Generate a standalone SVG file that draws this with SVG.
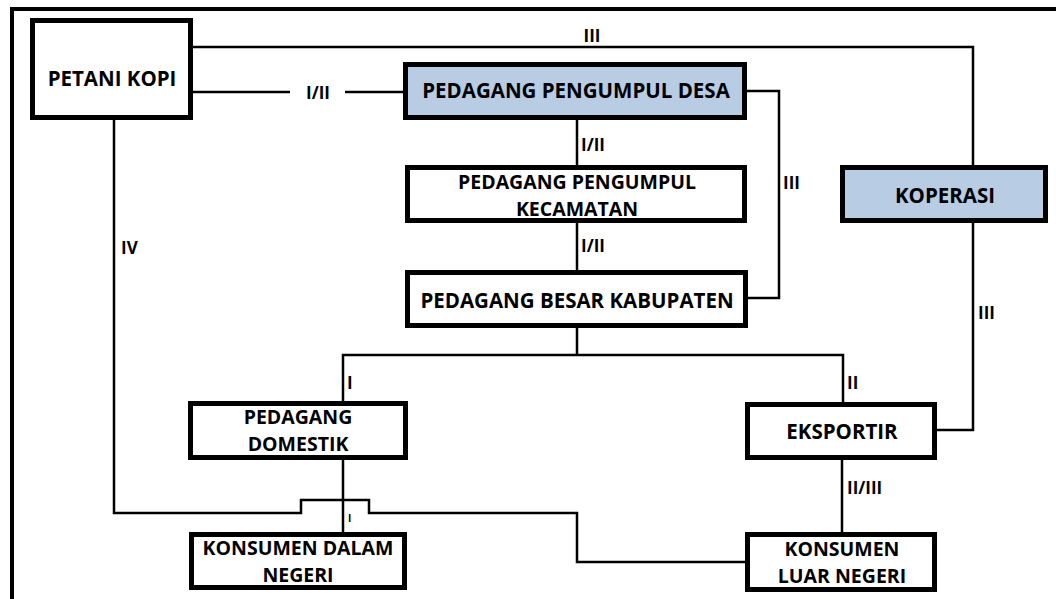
<svg xmlns="http://www.w3.org/2000/svg" width="1056" height="599" viewBox="0 0 1056 599">
<style>
.box{fill:#ffffff;stroke:#000;stroke-width:5}
.blue{fill:#b8cce4}
.t{font-family:"Open Sans","Liberation Sans",sans-serif;font-weight:700;font-size:20.5px;fill:#000;text-anchor:middle}
.t2{font-size:19.5px}
.l{font-family:"Open Sans","Liberation Sans",sans-serif;font-weight:700;font-size:17px;fill:#000}
.c{fill:none;stroke:#000;stroke-width:2.5}
.frame{fill:none;stroke:#000;stroke-width:4}
</style>
<rect width="1056" height="599" fill="#fff"/>
<path class="frame" d="M12,599 V9 H1056"/>
<g id="connectors">
<path class="c" d="M193,47 H973 V165"/>
<path class="c" d="M193,92 H290 M345,92 H403"/>
<path class="c" d="M747,91 H779 V298 H748"/>
<path class="c" d="M577,120 V165"/>
<path class="c" d="M577,223 V270"/>
<path class="c" d="M577,328 V355 M343,401 V355 H843 V402"/>
<path class="c" d="M343,460 V532"/>
<path class="c" d="M114,120 V513 H301 V500 H369 V513 H577 V562 H745"/>
<path class="c" d="M973,223 V430 H937"/>
<path class="c" d="M842,460 V532"/>
<text class="l" x="592" y="42" text-anchor="middle">III</text>
<text class="l" x="318" y="99" text-anchor="middle">I/II</text>
<text class="l" x="581" y="151">I/II</text>
<text class="l" x="581" y="252">I/II</text>
<text class="l" x="783" y="189">III</text>
<text class="l" x="121" y="254">IV</text>
<text class="l" x="347" y="389">I</text>
<text class="l" x="847" y="389">II</text>
<text class="l" x="978" y="319">III</text>
<text class="l" x="847" y="494">II/III</text>
<text class="l" x="348" y="522" style="font-size:10px">I</text>
</g>
<g id="petani-kopi">
<rect class="box" x="32.5" y="20.5" width="158" height="97"/>
<text class="t" x="112" y="86">PETANI KOPI</text>
</g>
<g id="pedagang-pengumpul-desa">
<rect class="box blue" x="405.5" y="64.5" width="339" height="53"/>
<text class="t" x="576" y="98">PEDAGANG PENGUMPUL DESA</text>
</g>
<g id="pedagang-pengumpul-kecamatan">
<rect class="box" x="407.5" y="167.5" width="337" height="53"/>
<text class="t t2" x="577" y="189">PEDAGANG PENGUMPUL</text>
<text class="t t2" x="577" y="216">KECAMATAN</text>
</g>
<g id="pedagang-besar-kabupaten">
<rect class="box" x="407.5" y="272.5" width="338" height="53"/>
<text class="t" x="577" y="308">PEDAGANG BESAR KABUPATEN</text>
</g>
<g id="koperasi">
<rect class="box blue" x="842.5" y="167.5" width="203" height="53"/>
<text class="t" x="945" y="203">KOPERASI</text>
</g>
<g id="pedagang-domestik">
<rect class="box" x="190.5" y="403.5" width="215" height="54"/>
<text class="t t2" x="298" y="424">PEDAGANG</text>
<text class="t t2" x="298" y="451">DOMESTIK</text>
</g>
<g id="eksportir">
<rect class="box" x="747.5" y="404.5" width="187" height="53"/>
<text class="t" x="842" y="439">EKSPORTIR</text>
</g>
<g id="konsumen-dalam-negeri">
<rect class="box" x="191.5" y="534.5" width="213" height="53"/>
<text class="t t2" x="298" y="555">KONSUMEN DALAM</text>
<text class="t t2" x="298" y="582">NEGERI</text>
</g>
<g id="konsumen-luar-negeri">
<rect class="box" x="747.5" y="534.5" width="187" height="55"/>
<text class="t t2" x="842" y="556">KONSUMEN</text>
<text class="t t2" x="842" y="583">LUAR NEGERI</text>
</g>
</svg>
